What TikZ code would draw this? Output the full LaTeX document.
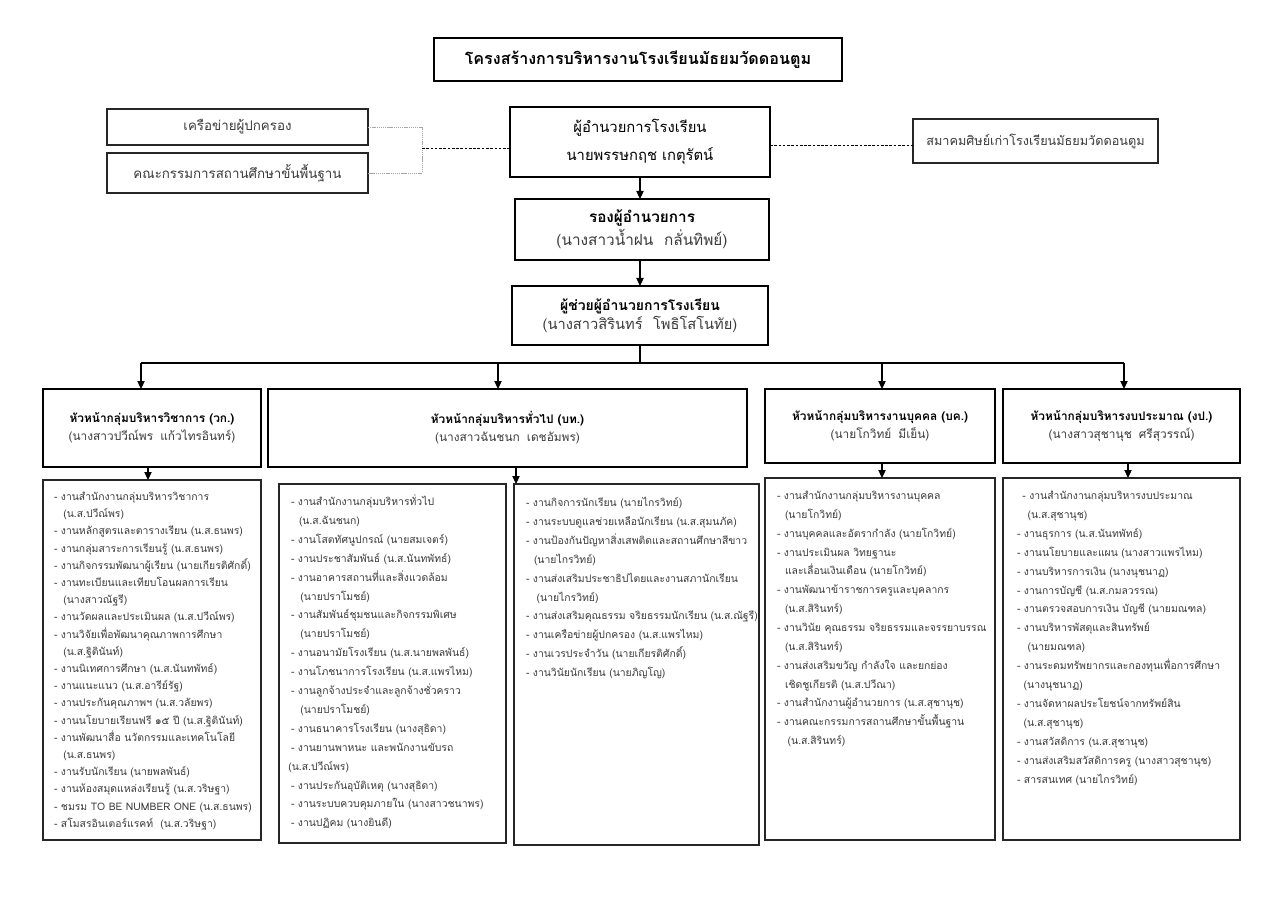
\documentclass[tikz,border=0pt]{standalone}
\usepackage{fontspec}
\setmainfont[Script=Thai]{Loma}
\usetikzlibrary{arrows.meta}
\definecolor{txt}{HTML}{3A3A3A}
\newcommand\rbox[7][]{\node[box,#1,minimum width={(#5-#3)*0.75pt},minimum height={(#6-#4)*0.75pt}] (#2) at ({(#3+#5)/2},{(#4+#6)/2}) {#7};}
\newcommand\lst[5]{\foreach \itm [count=\i from 0] in {#5} {\node[lt] (#1-\i) at (#2,{#3+\i*#4}) {\itm};}}
\newcommand\ind[1]{\hspace*{#1pt}}
\begin{document}
\begin{tikzpicture}[x=0.75pt,y=-0.75pt,
  box/.style={draw=black,line width=0.9pt,inner sep=0pt,outer sep=0pt,align=center},
  lbox/.style={box,draw=black!85,line width=0.8pt},
  lt/.style={inner sep=0pt,outer sep=0pt,anchor=base west,text=txt,font=\fontsize{7.8}{10}\selectfont},
  arr/.style={line width=0.8pt,-{Triangle[length=6pt,width=5.5pt]}},
  dashline/.style={line width=0.7pt,dash pattern=on 2pt off 1.2pt},
  graybr/.style={draw=gray!70,line width=0.6pt,dash pattern=on 1pt off 0.6pt},
  headfont/.style={font=\fontsize{8.9}{13.5}\selectfont},
]
\useasboundingbox[fill=white] (0,0) rectangle (1280,905);

% top
\rbox[font=\bfseries\fontsize{12.1}{15}\selectfont]{T}{434}{38}{842}{81}{โครงสร้างการบริหารงานโรงเรียนมัธยมวัดดอนตูม}
\rbox[font=\fontsize{11.1}{21}\selectfont]{D}{510}{107}{770}{177}{ผู้อำนวยการโรงเรียน\\นายพรรษกฤช เกตุรัตน์}
\rbox[lbox,text=txt,font=\fontsize{10}{12}\selectfont]{B1}{107}{109}{368}{145}{เครือข่ายผู้ปกครอง}
\rbox[lbox,text=txt,font=\fontsize{10}{12}\selectfont]{B2}{107}{153}{368}{193}{คณะกรรมการสถานศึกษาขั้นพื้นฐาน}
\rbox[lbox,text=txt,font=\fontsize{9.5}{12}\selectfont]{R}{913}{119}{1158}{163}{สมาคมศิษย์เก่าโรงเรียนมัธยมวัดดอนตูม}
\rbox[font=\fontsize{11.5}{17}\selectfont]{Dp}{515}{199}{769}{260}{{\bfseries\fontsize{11.5}{17}\selectfont รองผู้อำนวยการ}\\{\color{txt}(นางสาวน้ำฝน\hspace{0.7em}กลั่นทิพย์)}}
\rbox[font=\fontsize{11}{14}\selectfont]{As}{512}{286}{768}{345}{{\bfseries\fontsize{10.5}{14}\selectfont ผู้ช่วยผู้อำนวยการโรงเรียน}\\{\color{txt}(นางสาวสิรินทร์\hspace{0.7em}โพธิโสโนทัย)}}

% connectors top
\coordinate (br) at (422,148);
\draw[graybr] (B1.east) -| (br |- B2.east) -- (B2.east);
\draw[dashline] (br) -- (br -| D.west);
\coordinate (dr) at (0,145);
\draw[dashline] (D.east |- dr) -- (R.west |- dr);
\draw[arr] (D.south) -- (D.south |- Dp.north);
\draw[arr] (D.south |- Dp.south) -- (D.south |- As.north);

% heads
\rbox[headfont]{H1}{43}{389}{261}{467}{{\bfseries หัวหน้ากลุ่มบริหารวิชาการ (วก.)}\\{\color{txt}(นางสาวปวีณ์พร\hspace{0.6em}แก้วไทรอินทร์)}}
\rbox[headfont]{H2}{268}{389}{747}{467}{{\bfseries หัวหน้ากลุ่มบริหารทั่วไป (บท.)}\\{\color{txt}(นางสาวฉันชนก\hspace{0.6em}เดชอัมพร)}}
\rbox[headfont]{H3}{765}{389}{995}{463}{{\bfseries หัวหน้ากลุ่มบริหารงานบุคคล (บค.)}\\{\color{txt}(นายโกวิทย์\hspace{0.6em}มีเย็น)}}
\rbox[headfont]{H4}{1003}{389}{1240}{463}{{\bfseries หัวหน้ากลุ่มบริหารงบประมาณ (งป.)}\\{\color{txt}(นางสาวสุชานุช\hspace{0.6em}ศรีสุวรรณ์)}}

\coordinate (hl) at (0,363);
\coordinate (a1) at (141,363);
\coordinate (a2) at (498,363);
\coordinate (a3) at (882,363);
\coordinate (a4) at (1124,363);
\draw[line width=0.8pt] (D.south |- As.south) -- (D.south |- hl);
\draw[line width=0.8pt] (a1) -- (a4);
\draw[arr] (a1) -- (a1 |- H1.north);
\draw[arr] (a2) -- (a2 |- H2.north);
\draw[arr] (a3) -- (a3 |- H3.north);
\draw[arr] (a4) -- (a4 |- H4.north);

% list boxes
\rbox[lbox]{L1}{43}{480}{261}{840}{}
\rbox[lbox]{L2}{279}{484}{506}{843}{}
\rbox[lbox]{L3}{514}{484}{759}{845}{}
\rbox[lbox]{L4}{765}{478}{995}{840}{}
\rbox[lbox]{L5}{1003}{478}{1240}{840}{}

\coordinate (b1) at (148,0);
\coordinate (b2) at (516,0);
\coordinate (b3) at (882,0);
\coordinate (b4) at (1128,0);
\draw[arr] (b1 |- H1.south) -- (b1 |- L1.north);
\draw[arr] (b2 |- H2.south) -- (b2 |- L3.north);
\draw[arr] (b3 |- H3.south) -- (b3 |- L4.north);
\draw[arr] (b4 |- H4.south) -- (b4 |- L5.north);

% list texts
\lst{t1}{54}{500.5}{17.2}{- งานสำนักงานกลุ่มบริหารวิชาการ,
\ind{7}(น.ส.ปวีณ์พร),
- งานหลักสูตรและตารางเรียน (น.ส.ธนพร),
- งานกลุ่มสาระการเรียนรู้ (น.ส.ธนพร),
- งานกิจกรรมพัฒนาผู้เรียน (นายเกียรติศักดิ์),
- งานทะเบียนและเทียบโอนผลการเรียน,
\ind{7}(นางสาวณัฐรี),
- งานวัดผลและประเมินผล (น.ส.ปวีณ์พร),
- งานวิจัยเพื่อพัฒนาคุณภาพการศึกษา,
\ind{7}(น.ส.ฐิตินันท์),
- งานนิเทศการศึกษา (น.ส.นันทพัทธ์),
- งานแนะแนว (น.ส.อารีย์รัฐ),
- งานประกันคุณภาพฯ (น.ส.วลัยพร),
- งานนโยบายเรียนฟรี ๑๕ ปี (น.ส.ฐิตินันท์),
- งานพัฒนาสื่อ นวัตกรรมและเทคโนโลยี,
\ind{7}(น.ส.ธนพร),
- งานรับนักเรียน (นายพลพันธ์),
- งานห้องสมุดแหล่งเรียนรู้ (น.ส.วริษฐา),
- ชมรม TO BE NUMBER ONE (น.ส.ธนพร),
- สโมสรอินเตอร์แรคท์\ \ (น.ส.วริษฐา)}

\lst{t2}{291}{505.5}{18.9}{- งานสำนักงานกลุ่มบริหารทั่วไป,
\ind{6}(น.ส.ฉันชนก),
- งานโสตทัศนูปกรณ์ (นายสมเจตร์),
- งานประชาสัมพันธ์ (น.ส.นันทพัทธ์),
- งานอาคารสถานที่และสิ่งแวดล้อม,
\ind{7}(นายปราโมชย์),
- งานสัมพันธ์ชุมชนและกิจกรรมพิเศษ,
\ind{7}(นายปราโมชย์),
- งานอนามัยโรงเรียน (น.ส.นายพลพันธ์),
- งานโภชนาการโรงเรียน (น.ส.แพรไหม),
- งานลูกจ้างประจำและลูกจ้างชั่วคราว,
\ind{7}(นายปราโมชย์),
- งานธนาคารโรงเรียน (นางสุธิดา),
- งานยานพาหนะ และพนักงานขับรถ,
\hspace*{-2pt}(น.ส.ปวีณ์พร),
- งานประกันอุบัติเหตุ (นางสุธิดา),
- งานระบบควบคุมภายใน (นางสาวชนาพร),
- งานปฏิคม (นางยินดี)}

\lst{t3}{526}{506.5}{18.9}{- งานกิจการนักเรียน (นายไกรวิทย์),
- งานระบบดูแลช่วยเหลือนักเรียน (น.ส.สุมนภัค),
- งานป้องกันปัญหาสิ่งเสพติดและสถานศึกษาสีขาว,
\ind{6}(นายไกรวิทย์),
- งานส่งเสริมประชาธิปไตยและงานสภานักเรียน,
\ind{8}(นายไกรวิทย์),
- งานส่งเสริมคุณธรรม จริยธรรมนักเรียน (น.ส.ณัฐรี),
- งานเครือข่ายผู้ปกครอง (น.ส.แพรไหม),
- งานเวรประจำวัน (นายเกียรติศักดิ์),
- งานวินัยนักเรียน (นายภิญโญ)}

\lst{t4}{777}{499.5}{18.85}{- งานสำนักงานกลุ่มบริหารงานบุคคล,
\ind{6}(นายโกวิทย์),
- งานบุคคลและอัตรากำลัง (นายโกวิทย์),
- งานประเมินผล วิทยฐานะ,
\ind{6}และเลื่อนเงินเดือน (นายโกวิทย์),
- งานพัฒนาข้าราชการครูและบุคลากร,
\ind{6}(น.ส.สิรินทร์),
- งานวินัย คุณธรรม จริยธรรมและจรรยาบรรณ,
\ind{6}(น.ส.สิรินทร์),
- งานส่งเสริมขวัญ กำลังใจ และยกย่อง,
\ind{6}เชิดชูเกียรติ (น.ส.ปวีณา),
- งานสำนักงานผู้อำนวยการ (น.ส.สุชานุช),
- งานคณะกรรมการสถานศึกษาขั้นพื้นฐาน,
\ind{8}(น.ส.สิรินทร์)}

\lst{t5}{1017}{499.5}{18.9}{\ind{4}- งานสำนักงานกลุ่มบริหารงบประมาณ,
\ind{8}(น.ส.สุชานุช),
- งานธุรการ (น.ส.นันทพัทธ์),
- งานนโยบายและแผน (นางสาวแพรไหม),
- งานบริหารการเงิน (นางนุชนาฏ),
- งานการบัญชี (น.ส.กมลวรรณ),
- งานตรวจสอบการเงิน บัญชี (นายมณฑล),
- งานบริหารพัสดุและสินทรัพย์,
\ind{8}(นายมณฑล),
- งานระดมทรัพยากรและกองทุนเพื่อการศึกษา,
\ind{5}(นางนุชนาฏ),
- งานจัดหาผลประโยชน์จากทรัพย์สิน,
\ind{5}(น.ส.สุชานุช),
- งานสวัสดิการ (น.ส.สุชานุช),
- งานส่งเสริมสวัสดิการครู (นางสาวสุชานุช),
- สารสนเทศ (นายไกรวิทย์)}
\end{tikzpicture}
\end{document}
